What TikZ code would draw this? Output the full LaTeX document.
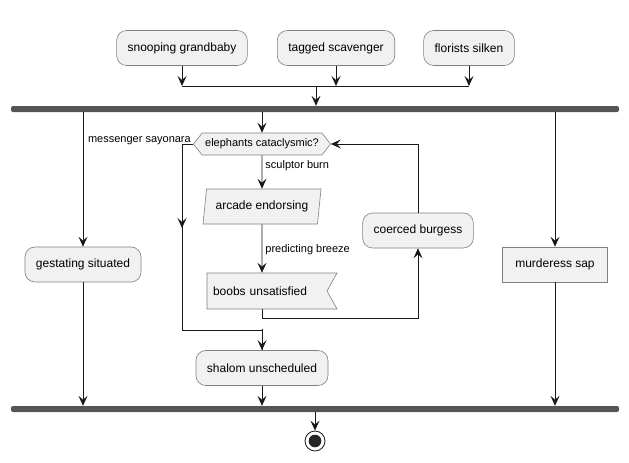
\documentclass[tikz,border=0pt]{standalone}
\usepackage{fontspec}
\setmainfont{Liberation Sans}
\usetikzlibrary{shapes.geometric,shapes.symbols,arrows.meta,calc}

\definecolor{actfill}{HTML}{F1F1F1}
\definecolor{barfill}{HTML}{555555}
\tikzset{
  act/.style={draw=black!50, fill=actfill, line width=0.6pt, rounded corners=10pt, inner xsep=11pt, minimum height=35pt, font=\fontsize{12}{14}\selectfont},
  plain/.style={draw=black!50, fill=actfill, line width=0.6pt, inner sep=0pt, font=\fontsize{12}{14}\selectfont},
  bar/.style={fill=barfill, rounded corners=2pt, inner sep=0pt, minimum height=6pt, minimum width=608pt},
  lbl/.style={inner sep=0pt, font=\fontsize{11}{13}\selectfont},
  flow/.style={line width=0.9pt, draw=black!90, -{Stealth[length=10pt,width=9pt,inset=4pt]}},
  line/.style={line width=0.9pt, draw=black!90}
}

\begin{document}
\begin{tikzpicture}[x=1pt,y=-1pt]
\useasboundingbox (0,0) rectangle (629,463);

%% top activities
\node[act] (snoop) at (182,48) {snooping grandbaby};
\node[act] (tagged) at (336,48) {tagged scavenger};
\node[act] (florist) at (469,48) {florists silken};
\coordinate (merge) at (316,86);

%% fork and join bars
\node[bar] (fork) at (315,109) {};
\node[bar] (join) at (315,409) {};

%% branches
\node[act] (gest) at (83,264.5) {gestating situated};
\node[plain, signal, signal to=west and east, signal pointer angle=104, minimum width=137pt, minimum height=22pt, font=\fontsize{11}{13}\selectfont] (dec) at (262,144) {elephants cataclysmic?};
\node[plain, trapezium, trapezium left angle=72.5, trapezium right angle=107.5, minimum width=118pt, minimum height=35pt, trapezium stretches body=true] (arc) at (262,206.5) {arcade endorsing};
\node[plain, signal, signal to=nowhere, signal from=east, signal pointer angle=122, minimum width=130pt, minimum height=36pt, text width=108pt] (boobs) at (267,291) {boobs unsatisfied};
\node[act] (coerced) at (418,230.5) {coerced burgess};
\node[act] (shalom) at (262,368) {shalom unscheduled};
\node[plain, minimum width=105pt, minimum height=35pt] (murd) at (555,264.5) {murderess sap};

%% end
\node[circle, draw=black!90, line width=0.8pt, fill=white, minimum size=20pt, inner sep=0pt] (stop) at (315,441) {};
\fill[black!85] (stop) circle (6.3pt);

%% top merge
\draw[flow] (snoop) -- (snoop |- merge);
\draw[flow] (tagged) -- (tagged |- merge);
\draw[flow] (florist) -- (florist |- merge);
\draw[line] (snoop |- merge) -- (florist |- merge);
\draw[flow] (merge) -- (merge |- fork.north);

%% left and right branches
\draw[flow] (gest |- fork.south) -- (gest.north);
\draw[flow] (gest.south) -- (gest |- join.north);
\draw[flow] (murd |- fork.south) -- (murd.north);
\draw[flow] (murd.south) -- (murd |- join.north);

%% loop
\draw[flow] (dec |- fork.south) -- (dec.north);
\draw[flow] (dec.south) -- (arc.north) node[lbl, pos=0.3, anchor=west, xshift=3pt] {sculptor burn};
\draw[flow] (arc.south) -- (arc |- boobs.north) node[lbl, pos=0.53, anchor=west, xshift=3pt] {predicting breeze};
\coordinate (back) at (262,318);
\draw[flow] (arc |- boobs.south) -- (back) -| (coerced.south);
\draw[flow] (coerced.north) |- (dec.east);

%% exit
\coordinate (lp) at (182,144);
\coordinate (lq) at (182,330);
\node[lbl, anchor=south east] at (191,144.5) {messenger sayonara};
\draw[flow] (dec.west) -- (lp) -- (182,228);
\draw[line] (182,226) -- (lq) -| (shalom.north);
\draw[flow] ($(lq -| shalom)+(0,-1)$) -- (shalom.north);
\draw[flow] (shalom.south) -- (shalom |- join.north);
\draw[flow] (join.south -| stop) -- (stop.north);
\end{tikzpicture}
\end{document}
